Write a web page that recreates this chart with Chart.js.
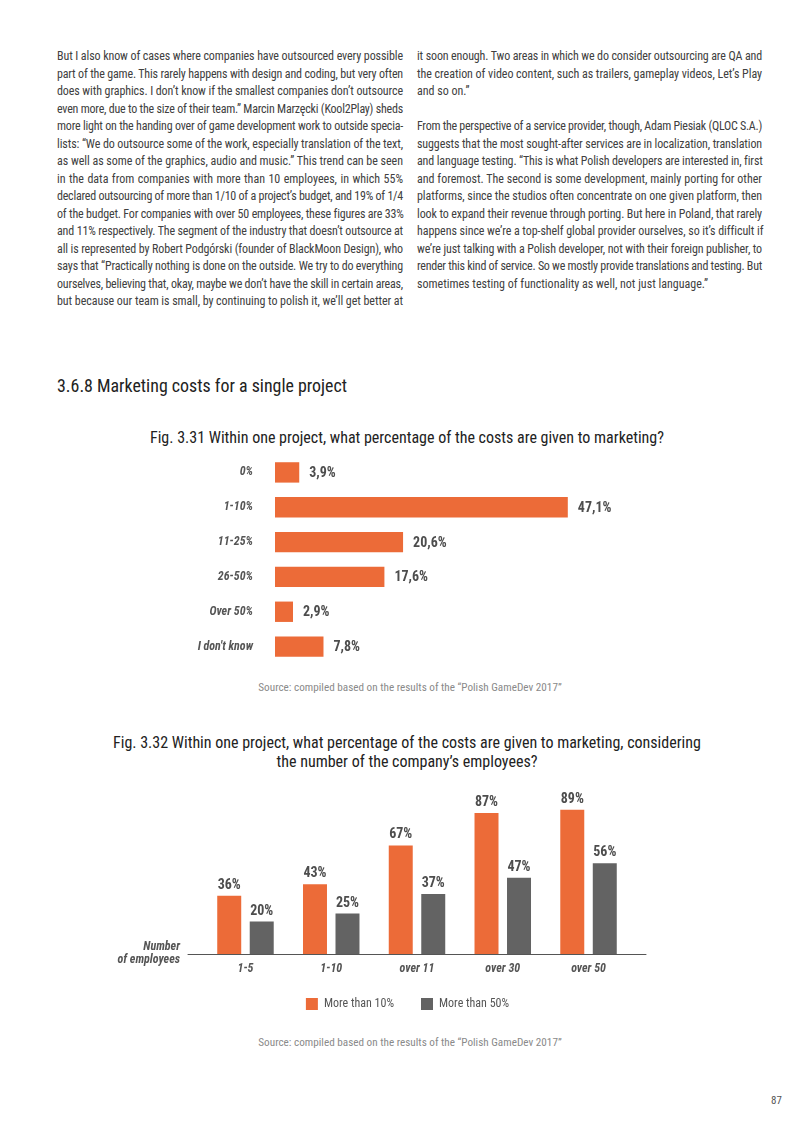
<!DOCTYPE html>
<html><head><meta charset="utf-8">
<script src="https://cdn.jsdelivr.net/npm/chart.js@4.4.0/dist/chart.umd.min.js"></script>
<style>
html,body{margin:0;padding:0;}
body{width:800px;height:1131px;background:#fff;position:relative;overflow:hidden;font-family:'Liberation Sans Narrow','Roboto Condensed',Roboto,sans-serif;}
.col{position:absolute;top:48px;width:346px;font-size:12px;line-height:17.5px;color:#404040;}
.col div{height:17.5px;white-space:nowrap;}
.abs{position:absolute;}
.h{left:57px;top:374px;font-size:19px;color:#222;white-space:nowrap;transform-origin:0 0;}
.ft{left:0;width:814px;text-align:center;font-size:16px;color:#222;line-height:19px;}
.src{left:0;width:820px;text-align:center;font-size:11.2px;color:#8a8a8a;}
canvas{position:absolute;}
</style></head>
<body>
<div class="col" style="left:57px;">
<div>But I also know of cases where companies have outsourced every possible</div>
<div>part of the game. This rarely happens with design and coding, but very often</div>
<div>does with graphics. I don’t know if the smallest companies don’t outsource</div>
<div>even more, due to the size of their team.” Marcin Marzęcki (Kool2Play) sheds</div>
<div>more light on the handing over of game development work to outside specia-</div>
<div>lists: “We do outsource some of the work, especially translation of the text,</div>
<div>as well as some of the graphics, audio and music.” This trend can be seen</div>
<div>in the data from companies with more than 10 employees, in which 55%</div>
<div>declared outsourcing of more than 1/10 of a project’s budget, and 19% of 1/4</div>
<div>of the budget. For companies with over 50 employees, these figures are 33%</div>
<div>and 11% respectively. The segment of the industry that doesn’t outsource at</div>
<div>all is represented by Robert Podgórski (founder of BlackMoon Design), who</div>
<div>says that “Practically nothing is done on the outside. We try to do everything</div>
<div>ourselves, believing that, okay, maybe we don’t have the skill in certain areas,</div>
<div>but because our team is small, by continuing to polish it, we’ll get better at</div>
</div>
<div class="col" style="left:417px;width:345px;">
<div>it soon enough. Two areas in which we do consider outsourcing are QA and</div>
<div>the creation of video content, such as trailers, gameplay videos, Let’s Play</div>
<div class="l">and so on.”</div>
<div class="l"></div>
<div>From the perspective of a service provider, though, Adam Piesiak (QLOC S.A.)</div>
<div>suggests that the most sought-after services are in localization, translation</div>
<div>and language testing. “This is what Polish developers are interested in, first</div>
<div>and foremost. The second is some development, mainly porting for other</div>
<div>platforms, since the studios often concentrate on one given platform, then</div>
<div>look to expand their revenue through porting. But here in Poland, that rarely</div>
<div>happens since we’re a top-shelf global provider ourselves, so it’s difficult if</div>
<div>we’re just talking with a Polish developer, not with their foreign publisher, to</div>
<div>render this kind of service. So we mostly provide translations and testing. But</div>
<div class="l">sometimes testing of functionality as well, not just language.”</div>
</div>

<div class="abs h" id="head">3.6.8 Marketing costs for a single project</div>
<div class="abs ft" style="top:428px;">Fig. 3.31 Within one project, what percentage of the costs are given to marketing?</div>
<canvas id="c1" width="498" height="209" style="left:150px;top:455px;"></canvas>
<div class="abs src" style="top:681px;">Source: compiled based on the results of the “Polish GameDev 2017”</div>

<div class="abs ft" style="top:733px;">Fig. 3.32 Within one project, what percentage of the costs are given to marketing, considering<br>the number of the company’s employees?</div>
<canvas id="c2" width="560" height="242" style="left:100px;top:778px;"></canvas>
<div class="abs" style="left:80px;width:100px;top:940px;text-align:right;font-size:12px;line-height:13px;font-weight:bold;font-style:italic;color:#555;">Number<br>of employees</div>
<div class="abs src" style="top:1036px;">Source: compiled based on the results of the “Polish GameDev 2017”</div>
<div class="abs" style="left:771px;top:1094px;font-size:11px;color:#555;">87</div>

<script>
// ---- data ----
const costCategories = ['0%', '1-10%', '11-25%', '26-50%', 'Over 50%', "I don't know"];
const costValues = [3.9, 47.1, 20.6, 17.6, 2.9, 7.8];

const employeeCategories = ['1-5', '1-10', 'over 11', 'over 30', 'over 50'];
const moreThan10 = [36, 43, 67, 87, 89];
const moreThan50 = [20, 25, 37, 47, 56];
const seriesNames = ['More than 10%', 'More than 50%'];

// ---- justify the body text line by line ----
document.querySelectorAll('.col div').forEach(d => {
  const txt = d.textContent;
  if (!txt.trim()) return;
  const target = d.parentElement.clientWidth;
  const span = document.createElement('span');
  span.textContent = txt; d.textContent = ''; d.appendChild(span);
  const natural = span.getBoundingClientRect().width;
  const diff = target - natural;
  if (d.classList.contains('l')) {
    if (diff < 0) span.style.letterSpacing = (diff / txt.length) + 'px';
    return;
  }
  const spaces = (txt.match(/ /g) || []).length;
  if (diff >= 0) span.style.wordSpacing = (diff / spaces) + 'px';
  else span.style.letterSpacing = (diff / txt.length) + 'px';
});
(function () {
  const h = document.getElementById('head');
  const w = h.getBoundingClientRect().width;
  h.style.transform = 'scaleX(' + (290 / w) + ')';
})();

// ---- styles ----
const FONT = "'Liberation Sans Narrow','Roboto Condensed',Roboto,sans-serif";
const ORANGE = '#EC6B38';
const GREY = '#636363';
const LABEL = '#4d4d4d';
const TICK = '#555';

const valueLabels = {
  id: 'valueLabels',
  afterDatasetsDraw(chart, args, opts) {
    const ctx = chart.ctx;
    ctx.save();
    ctx.fillStyle = LABEL;
    ctx.font = 'bold 14px ' + FONT;
    chart.data.datasets.forEach((ds, di) => {
      const meta = chart.getDatasetMeta(di);
      meta.data.forEach((el, i) => {
        const v = ds.data[i];
        if (opts.horizontal) {
          ctx.textAlign = 'left'; ctx.textBaseline = 'middle';
          ctx.fillText(v.toFixed(1).replace('.', ',') + '%', el.x + 10, el.y + 1);
        } else {
          ctx.textAlign = 'center'; ctx.textBaseline = 'alphabetic';
          ctx.fillText(v + '%', el.x, el.y - 7);
        }
      });
    });
    ctx.restore();
  }
};

const axisAndTicks = {
  id: 'axisAndTicks',
  afterLayout(chart) {
    // centre the legend row under the plot like the reference
    chart.legend.left -= 9.5;
    chart.legend.right -= 9.5;
  },
  afterDraw(chart) {
    const {ctx, chartArea} = chart;
    const xs = chart.scales.x;
    ctx.save();
    ctx.strokeStyle = '#555';
    ctx.lineWidth = 1;
    ctx.beginPath();
    const yb = Math.round(chartArea.bottom) + 0.5;
    ctx.moveTo(chartArea.left - 15, yb);
    ctx.lineTo(chartArea.right + 15, yb);
    ctx.stroke();
    ctx.fillStyle = TICK;
    ctx.font = 'italic bold 12px ' + FONT;
    ctx.textAlign = 'center';
    ctx.textBaseline = 'middle';
    chart.data.labels.forEach((lab, i) => {
      ctx.fillText(lab, xs.getPixelForTick(i), chartArea.bottom + 15);
    });
    ctx.restore();
  }
};

new Chart(document.getElementById('c1'), {
  type: 'bar',
  data: {
    labels: costCategories,
    datasets: [{ data: costValues, backgroundColor: ORANGE, borderWidth: 0,
      barPercentage: 0.585, categoryPercentage: 1 }]
  },
  options: {
    indexAxis: 'y', responsive: false, animation: false,
    layout: { padding: 0 },
    plugins: { legend: { display: false }, tooltip: { enabled: false }, valueLabels: { horizontal: true } },
    scales: {
      x: { display: false, min: 0, max: 60 },
      y: {
        grid: { display: false, drawTicks: false }, border: { display: false },
        ticks: { color: TICK, padding: 22, font: { family: FONT, size: 12, weight: 'bold', style: 'italic' } },
        afterFit(s) { s.width = 125; s.paddingTop = 0; s.paddingBottom = 0; }
      }
    }
  },
  plugins: [valueLabels]
});

new Chart(document.getElementById('c2'), {
  type: 'bar',
  data: {
    labels: employeeCategories,
    datasets: [
      { label: seriesNames[0], data: moreThan10, backgroundColor: ORANGE, borderWidth: 0,
        barPercentage: 0.738, categoryPercentage: 0.758 },
      { label: seriesNames[1], data: moreThan50, backgroundColor: GREY, borderWidth: 0,
        barPercentage: 0.738, categoryPercentage: 0.758 }
    ]
  },
  options: {
    responsive: false, animation: false,
    layout: { padding: { left: 102.6, right: 28.6, top: 14, bottom: 0 } },
    plugins: {
      tooltip: { enabled: false },
      valueLabels: { horizontal: false },
      legend: {
        position: 'bottom',
        labels: { boxWidth: 12, boxHeight: 12, padding: 27, color: TICK,
          font: { family: FONT, size: 12 } }
      }
    },
    scales: {
      x: {
        grid: { display: false, drawTicks: false }, border: { display: false },
        ticks: { display: false },
        afterFit(s) { s.height = 17; s.paddingLeft = 0; s.paddingRight = 0; }
      },
      y: { display: false, min: 0, max: 100 }
    }
  },
  plugins: [valueLabels, axisAndTicks]
});
</script>
</body></html>
